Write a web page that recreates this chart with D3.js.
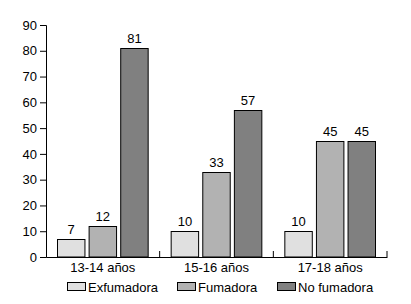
<!DOCTYPE html>
<html>
<head>
<meta charset="utf-8">
<script src="https://cdn.jsdelivr.net/npm/d3@7"></script>
<style>
  body { margin: 0; background: #fff; }
  text { font-family: "Liberation Sans", Arial, sans-serif; }
</style>
</head>
<body>
<div id="chart"></div>
<script>
// datos
const categories = ["13-14 años", "15-16 años", "17-18 años"];
const seriesNames = ["Exfumadora", "Fumadora", "No fumadora"];
const exfumadora = [7, 10, 10];
const fumadora = [12, 33, 45];
const noFumadora = [81, 57, 45];
const yTicks = [0, 10, 20, 30, 40, 50, 60, 70, 80, 90];
const colors = ["#e0e0e0", "#b2b2b2", "#808080"];

const width = 411;
const height = 304;
const margin = { top: 25, right: 24, bottom: 47, left: 46 };
const graphWidth = width - margin.left - margin.right;
const graphHeight = height - margin.top - margin.bottom;

const series = [exfumadora, fumadora, noFumadora];
const data = categories.map((c, i) => ({
  cat: c,
  values: seriesNames.map((s, j) => ({ key: s, value: series[j][i], color: colors[j] }))
}));

// Escalas
const x0 = d3.scaleBand().domain(categories).range([0, graphWidth]).padding(0);
const x1 = d3
  .scaleBand()
  .domain(seriesNames)
  .range([11, x0.bandwidth() - 11])
  .paddingInner(0.1);
const y = d3.scaleLinear().domain([0, 90]).range([graphHeight, 0]);

const svg = d3
  .select("#chart")
  .append("svg")
  .attr("width", width)
  .attr("height", height)
  .append("g")
  .attr("transform", `translate(${margin.left}, ${margin.top})`);

// Eixo Y
const yAxis = svg
  .append("g")
  .call(d3.axisLeft(y).tickValues(yTicks).tickSize(6).tickPadding(3));
yAxis.selectAll("text").style("font-size", "13px").attr("fill", "#000");
yAxis.selectAll("line, path").attr("stroke", "#000");

// Eixo X
const xAxis = svg
  .append("g")
  .attr("transform", `translate(0,${graphHeight})`)
  .call(d3.axisBottom(x0).tickSize(0).tickPadding(6));
xAxis.select(".domain").attr("stroke", "#000");
xAxis.selectAll("text").style("font-size", "13px").attr("fill", "#000");

// marcas entre grupos (para cima)
const boundaries = categories.slice(1).map((c) => x0(c)).concat([x0.range()[1]]);
svg
  .selectAll(".sep")
  .data(boundaries)
  .enter()
  .append("line")
  .attr("x1", (d) => d)
  .attr("x2", (d) => d)
  .attr("y1", graphHeight)
  .attr("y2", graphHeight - 6)
  .attr("stroke", "#000");

// Barras
const groups = svg
  .selectAll(".group")
  .data(data)
  .enter()
  .append("g")
  .attr("transform", (d) => `translate(${x0(d.cat)},0)`);

groups
  .selectAll("rect")
  .data((d) => d.values)
  .enter()
  .append("rect")
  .attr("x", (d) => x1(d.key) + 0.5)
  .attr("y", (d) => Math.round(y(d.value)) + 0.5)
  .attr("width", x1.bandwidth() - 1)
  .attr("height", (d) => graphHeight - Math.round(y(d.value)) - 0.5)
  .attr("fill", (d) => d.color)
  .attr("stroke", "#000")
  .attr("stroke-width", 1);

groups
  .selectAll(".lbl")
  .data((d) => d.values)
  .enter()
  .append("text")
  .attr("x", (d) => x1(d.key) + x1.bandwidth() / 2)
  .attr("y", (d) => y(d.value) - 5)
  .attr("text-anchor", "middle")
  .style("font-size", "13px")
  .text((d) => d.value);

// Legenda
const legendX = [21, 131, 231];
const legend = svg
  .selectAll(".legend")
  .data(seriesNames)
  .enter()
  .append("g")
  .attr("transform", (d, i) => `translate(${legendX[i]}, ${graphHeight + 25})`);

legend
  .append("rect")
  .attr("x", 0.5)
  .attr("y", 0.5)
  .attr("width", 18)
  .attr("height", 8)
  .attr("fill", (d, i) => colors[i])
  .attr("stroke", "#000");

legend
  .append("text")
  .attr("x", 21)
  .attr("y", 10)
  .style("font-size", "13px")
  .text((d) => d);
</script>
</body>
</html>
